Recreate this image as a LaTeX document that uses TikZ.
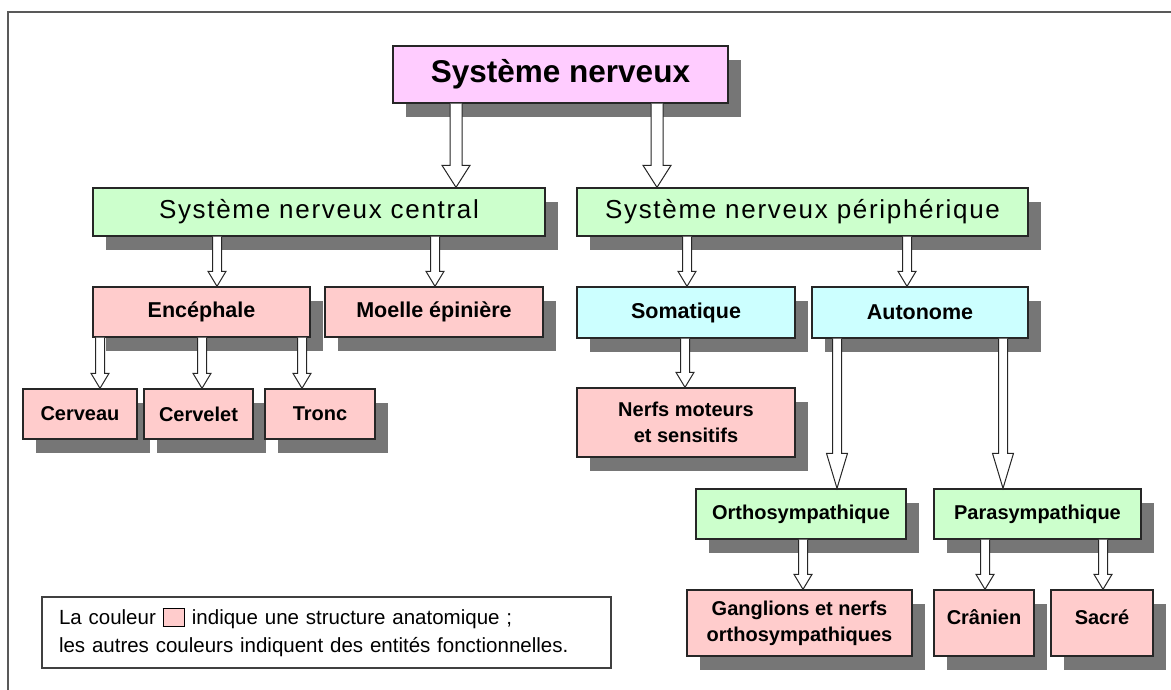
\documentclass[tikz,border=0pt]{standalone}
\usepackage{fontspec}
\setmainfont{Liberation Sans}
\newfontfamily\widefont[LetterSpace=6.5]{Liberation Sans}
\usetikzlibrary{shadows,calc}
\definecolor{cmag}{RGB}{255,204,255}
\definecolor{cgreen}{RGB}{204,255,204}
\definecolor{ccyan}{RGB}{204,255,255}
\definecolor{csalm}{RGB}{255,204,204}
\definecolor{cshadow}{RGB}{118,118,118}
\tikzset{
  box/.style={draw=black!85, line width=1.3pt, inner sep=0pt, align=center,
    font=\bfseries\fontsize{20}{26}\selectfont,
    drop shadow={shadow xshift=13pt, shadow yshift=-14pt, fill=cshadow, opacity=1}},
  bwh/.style 2 args={minimum width=#1pt, minimum height=#2pt},
  lvlthree/.style={font=\bfseries\fontsize{21.5}{26}\selectfont},
  lvltwo/.style={font=\widefont\fontsize{26}{30}\selectfont},
  barrow/.style={draw=black!85, fill=white, line width=1pt, line join=miter},
  legendbox/.style={draw=black!75, line width=1.2pt, inner xsep=17pt, align=left,
    font=\fontsize{20.5}{28}\selectfont},
  frameline/.style={draw=black!65, line width=2pt},
}
% block arrow: x, from node, to node, shaft half width, head half width, head length
\newcommand\blkarrow[6]{%
  \draw[barrow] let \p1=(#2.south), \p2=(#3.north) in
    ({(#1-#4)*1pt},\y1) -- ({(#1-#4)*1pt},{\y2+#6pt}) -- ({(#1-#5)*1pt},{\y2+#6pt})
    -- ({#1*1pt},\y2) -- ({(#1+#5)*1pt},{\y2+#6pt}) -- ({(#1+#4)*1pt},{\y2+#6pt})
    -- ({(#1+#4)*1pt},\y1);}
\begin{document}
\begin{tikzpicture}[x=1pt,y=-1pt]
\useasboundingbox (0,0) rectangle (1171,690);
\draw[frameline] (8,700) -- (8,12) -- (1180,12);

\node[box, fill=cmag, bwh={335}{57}, font=\bfseries\fontsize{31.5}{36}\selectfont] (sn) at (560.5,74.5) {Système nerveux};

\node[box, fill=cgreen, bwh={452}{48}, lvltwo] (snc) at (319,212) {Système nerveux central};
\node[box, fill=cgreen, bwh={451}{48}, lvltwo] (snp) at (802.5,212) {Système nerveux périphérique};

\node[box, fill=csalm, bwh={217}{50}, lvlthree] (enc) at (201.5,312) {Encéphale};
\node[box, fill=csalm, bwh={218}{50}, lvlthree] (moe) at (434,312) {Moelle épinière};
\node[box, fill=ccyan, bwh={218}{51}, lvlthree] (som) at (686,312.5) {Somatique};
\node[box, fill=ccyan, bwh={216}{51}, lvlthree] (aut) at (920,312.5) {Autonome};

\node[box, fill=csalm, bwh={114}{50}] (cerveau) at (80,414) {Cerveau};
\node[box, fill=csalm, bwh={109}{50}] (cervelet) at (198.5,414) {Cervelet};
\node[box, fill=csalm, bwh={110}{50}] (tronc) at (320,414) {Tronc};

\node[box, fill=csalm, bwh={218}{69}] (nerfs) at (686,422.5) {Nerfs moteurs\\et sensitifs};

\node[box, fill=cgreen, bwh={210}{50}] (ortho) at (801,514) {Orthosympathique};
\node[box, fill=cgreen, bwh={207}{50}] (para) at (1037.5,514) {Parasympathique};

\node[box, fill=csalm, bwh={225}{66}] (gang) at (799.5,623) {Ganglions et nerfs\\orthosympathiques};
\node[box, fill=csalm, bwh={100}{66}] (cran) at (984,623) {\raisebox{12pt}{Crânien}};
\node[box, fill=csalm, bwh={102}{66}] (sacre) at (1102,623) {\raisebox{12pt}{Sacré}};

\node[legendbox, minimum width=569pt, minimum height=71pt, text width=535pt] (leg) at (326.5,632.5)
  {La couleur {\setlength{\fboxsep}{1pt}\setlength{\fboxrule}{1.2pt}\fcolorbox{black}{csalm}{\rule{0pt}{15pt}\rule{18pt}{0pt}}} indique une structure anatomique ;\\les autres couleurs indiquent des entités fonctionnelles.};

% arrows
\blkarrow{456}{sn}{snc}{6}{14}{22}
\blkarrow{657}{sn}{snp}{6}{14}{22}
\blkarrow{217}{snc}{enc}{4.5}{9}{15}
\blkarrow{435}{snc}{moe}{4.5}{9}{15}
\blkarrow{687}{snp}{som}{4.5}{9}{15}
\blkarrow{907}{snp}{aut}{4.5}{9}{15}
\blkarrow{100}{enc}{cerveau}{4.5}{9}{15}
\blkarrow{202}{enc}{cervelet}{4.5}{9}{15}
\blkarrow{302}{enc}{tronc}{4.5}{9}{15}
\blkarrow{685}{som}{nerfs}{4.5}{9}{15}
\blkarrow{837}{aut}{ortho}{4.5}{10.5}{35}
\blkarrow{1003}{aut}{para}{4.5}{10.5}{35}
\blkarrow{803}{ortho}{gang}{4.5}{9}{15}
\blkarrow{985}{para}{cran}{4.5}{9}{15}
\blkarrow{1103}{para}{sacre}{4.5}{9}{15}
\end{tikzpicture}
\end{document}
